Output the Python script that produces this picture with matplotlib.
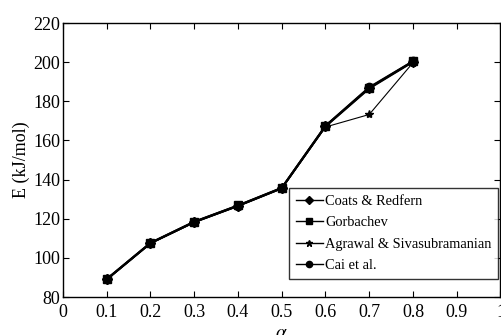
import matplotlib
matplotlib.use("Agg")
import matplotlib.pyplot as plt

plt.rcParams['font.family'] = ['Liberation Serif', 'DejaVu Serif']
plt.rcParams['mathtext.fontset'] = 'stix'

alpha = [0.1, 0.2, 0.3, 0.4, 0.5, 0.6, 0.7, 0.8]
coats_redfern = [89.0, 107.5, 118.3, 126.6, 135.6, 167.2, 186.6, 200.2]
gorbachev = [89.2, 107.7, 118.5, 126.8, 135.8, 167.4, 186.9, 200.4]
agrawal = [88.8, 107.3, 118.0, 126.3, 135.3, 166.9, 173.3, 199.8]
cai = [89.1, 107.6, 118.4, 126.7, 135.7, 167.5, 187.2, 200.5]

labels = ['Coats & Redfern', 'Gorbachev', 'Agrawal & Sivasubramanian', 'Cai et al.']
series = [coats_redfern, gorbachev, agrawal, cai]
markers = ['D', 's', '*', 'o']
sizes = [5, 6, 6, 6]
widths = [1.5, 1.5, 0.8, 1.5]

fig = plt.figure(figsize=(5.02, 3.35), dpi=100)
ax = fig.add_axes([0.1255, 0.1134, 0.8715, 0.8176])

for ys, lab, m, ms, lw in zip(series, labels, markers, sizes, widths):
    ax.plot(alpha, ys, color='black', marker=m, markersize=ms, linewidth=lw,
            markerfacecolor='black', markeredgecolor='black', label=lab)

ax.set_xlim(0, 1)
ax.set_ylim(80, 220)
ax.set_xticks([0, 0.1, 0.2, 0.3, 0.4, 0.5, 0.6, 0.7, 0.8, 0.9, 1])
ax.set_xticklabels(['0', '0.1', '0.2', '0.3', '0.4', '0.5', '0.6', '0.7', '0.8', '0.9', '1'])
ax.set_yticks(range(80, 221, 20))
ax.tick_params(direction='in', top=True, right=True, labelsize=13, length=4, width=0.8)
ax.tick_params(axis='x', pad=5)
ax.tick_params(axis='y', pad=2)
for s in ax.spines.values():
    s.set_linewidth(1.0)

ax.set_xlabel(r'$\alpha$', fontsize=14, labelpad=3)
ax.set_ylabel('E (kJ/mol)', fontsize=13, labelpad=2)

leg = ax.legend(loc='lower right', bbox_to_anchor=(0.995, 0.066), fontsize=10.4,
                frameon=True, fancybox=False, edgecolor='black', handlelength=1.85,
                handletextpad=0.2, borderpad=0.45, labelspacing=0.58, borderaxespad=0.0,
                markerscale=0.75)
leg.get_frame().set_linewidth(1.0)
for h in leg.legend_handles:
    h.set_linewidth(1.0)

fig.savefig('out.png', dpi=100)
